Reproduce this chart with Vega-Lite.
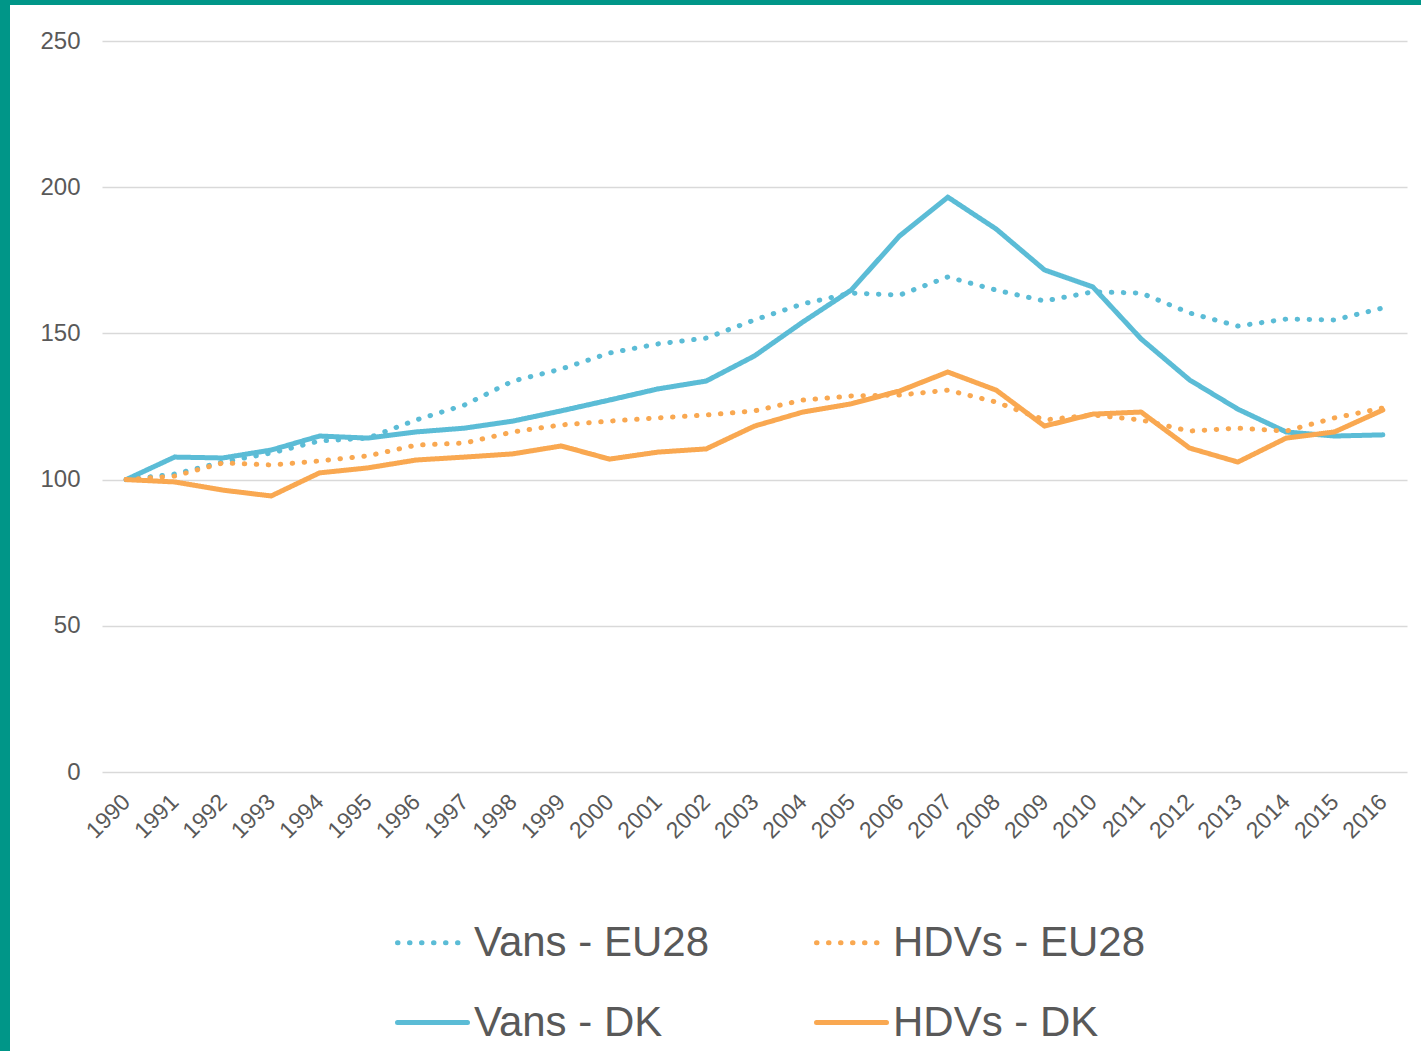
{
  "$schema": "https://vega.github.io/schema/vega-lite/v6.json",
  "padding": 0,
  "background": "white",
  "config": {
    "view": {"stroke": null},
    "font": "Liberation Sans",
    "concat": {"spacing": 0}
  },
  "datasets": {
    "d": [
      {"year": 1990, "series": "Vans - DK", "value": 100},
      {"year": 1991, "series": "Vans - DK", "value": 107.7},
      {"year": 1992, "series": "Vans - DK", "value": 107.4},
      {"year": 1993, "series": "Vans - DK", "value": 110.1},
      {"year": 1994, "series": "Vans - DK", "value": 114.9},
      {"year": 1995, "series": "Vans - DK", "value": 114.2},
      {"year": 1996, "series": "Vans - DK", "value": 116.3},
      {"year": 1997, "series": "Vans - DK", "value": 117.6},
      {"year": 1998, "series": "Vans - DK", "value": 120},
      {"year": 1999, "series": "Vans - DK", "value": 123.5},
      {"year": 2000, "series": "Vans - DK", "value": 127.2},
      {"year": 2001, "series": "Vans - DK", "value": 131},
      {"year": 2002, "series": "Vans - DK", "value": 133.7},
      {"year": 2003, "series": "Vans - DK", "value": 142.3},
      {"year": 2004, "series": "Vans - DK", "value": 153.9},
      {"year": 2005, "series": "Vans - DK", "value": 164.8},
      {"year": 2006, "series": "Vans - DK", "value": 183.3},
      {"year": 2007, "series": "Vans - DK", "value": 196.6},
      {"year": 2008, "series": "Vans - DK", "value": 185.7},
      {"year": 2009, "series": "Vans - DK", "value": 171.7},
      {"year": 2010, "series": "Vans - DK", "value": 165.9},
      {"year": 2011, "series": "Vans - DK", "value": 148.1},
      {"year": 2012, "series": "Vans - DK", "value": 134.1},
      {"year": 2013, "series": "Vans - DK", "value": 124.1},
      {"year": 2014, "series": "Vans - DK", "value": 116.3},
      {"year": 2015, "series": "Vans - DK", "value": 114.9},
      {"year": 2016, "series": "Vans - DK", "value": 115.3},
      {"year": 1990, "series": "Vans - EU28", "value": 100},
      {"year": 1991, "series": "Vans - EU28", "value": 101.9},
      {"year": 1992, "series": "Vans - EU28", "value": 106},
      {"year": 1993, "series": "Vans - EU28", "value": 109.1},
      {"year": 1994, "series": "Vans - EU28", "value": 113.2},
      {"year": 1995, "series": "Vans - EU28", "value": 114.2},
      {"year": 1996, "series": "Vans - EU28", "value": 120.4},
      {"year": 1997, "series": "Vans - EU28", "value": 125.5},
      {"year": 1998, "series": "Vans - EU28", "value": 133.7},
      {"year": 1999, "series": "Vans - EU28", "value": 137.8},
      {"year": 2000, "series": "Vans - EU28", "value": 143.3},
      {"year": 2001, "series": "Vans - EU28", "value": 146.4},
      {"year": 2002, "series": "Vans - EU28", "value": 148.4},
      {"year": 2003, "series": "Vans - EU28", "value": 154.6},
      {"year": 2004, "series": "Vans - EU28", "value": 160.1},
      {"year": 2005, "series": "Vans - EU28", "value": 163.8},
      {"year": 2006, "series": "Vans - EU28", "value": 163.1},
      {"year": 2007, "series": "Vans - EU28", "value": 169.3},
      {"year": 2008, "series": "Vans - EU28", "value": 164.8},
      {"year": 2009, "series": "Vans - EU28", "value": 161.1},
      {"year": 2010, "series": "Vans - EU28", "value": 164.2},
      {"year": 2011, "series": "Vans - EU28", "value": 163.8},
      {"year": 2012, "series": "Vans - EU28", "value": 157},
      {"year": 2013, "series": "Vans - EU28", "value": 152.5},
      {"year": 2014, "series": "Vans - EU28", "value": 154.9},
      {"year": 2015, "series": "Vans - EU28", "value": 154.6},
      {"year": 2016, "series": "Vans - EU28", "value": 158.7},
      {"year": 1990, "series": "HDVs - DK", "value": 100},
      {"year": 1991, "series": "HDVs - DK", "value": 99.2},
      {"year": 1992, "series": "HDVs - DK", "value": 96.4},
      {"year": 1993, "series": "HDVs - DK", "value": 94.4},
      {"year": 1994, "series": "HDVs - DK", "value": 102.3},
      {"year": 1995, "series": "HDVs - DK", "value": 104},
      {"year": 1996, "series": "HDVs - DK", "value": 106.7},
      {"year": 1997, "series": "HDVs - DK", "value": 107.7},
      {"year": 1998, "series": "HDVs - DK", "value": 108.8},
      {"year": 1999, "series": "HDVs - DK", "value": 111.5},
      {"year": 2000, "series": "HDVs - DK", "value": 107},
      {"year": 2001, "series": "HDVs - DK", "value": 109.4},
      {"year": 2002, "series": "HDVs - DK", "value": 110.5},
      {"year": 2003, "series": "HDVs - DK", "value": 118.3},
      {"year": 2004, "series": "HDVs - DK", "value": 123.1},
      {"year": 2005, "series": "HDVs - DK", "value": 125.9},
      {"year": 2006, "series": "HDVs - DK", "value": 130.3},
      {"year": 2007, "series": "HDVs - DK", "value": 136.8},
      {"year": 2008, "series": "HDVs - DK", "value": 130.6},
      {"year": 2009, "series": "HDVs - DK", "value": 118.3},
      {"year": 2010, "series": "HDVs - DK", "value": 122.4},
      {"year": 2011, "series": "HDVs - DK", "value": 123.1},
      {"year": 2012, "series": "HDVs - DK", "value": 110.8},
      {"year": 2013, "series": "HDVs - DK", "value": 106},
      {"year": 2014, "series": "HDVs - DK", "value": 114.2},
      {"year": 2015, "series": "HDVs - DK", "value": 116.3},
      {"year": 2016, "series": "HDVs - DK", "value": 123.8},
      {"year": 1990, "series": "HDVs - EU28", "value": 100},
      {"year": 1991, "series": "HDVs - EU28", "value": 101.2},
      {"year": 1992, "series": "HDVs - EU28", "value": 105.7},
      {"year": 1993, "series": "HDVs - EU28", "value": 105},
      {"year": 1994, "series": "HDVs - EU28", "value": 106.4},
      {"year": 1995, "series": "HDVs - EU28", "value": 108.1},
      {"year": 1996, "series": "HDVs - EU28", "value": 111.8},
      {"year": 1997, "series": "HDVs - EU28", "value": 112.5},
      {"year": 1998, "series": "HDVs - EU28", "value": 116.3},
      {"year": 1999, "series": "HDVs - EU28", "value": 118.7},
      {"year": 2000, "series": "HDVs - EU28", "value": 120},
      {"year": 2001, "series": "HDVs - EU28", "value": 121.1},
      {"year": 2002, "series": "HDVs - EU28", "value": 122.1},
      {"year": 2003, "series": "HDVs - EU28", "value": 123.5},
      {"year": 2004, "series": "HDVs - EU28", "value": 127.2},
      {"year": 2005, "series": "HDVs - EU28", "value": 128.6},
      {"year": 2006, "series": "HDVs - EU28", "value": 128.9},
      {"year": 2007, "series": "HDVs - EU28", "value": 130.6},
      {"year": 2008, "series": "HDVs - EU28", "value": 126.5},
      {"year": 2009, "series": "HDVs - EU28", "value": 120.4},
      {"year": 2010, "series": "HDVs - EU28", "value": 122.1},
      {"year": 2011, "series": "HDVs - EU28", "value": 120.4},
      {"year": 2012, "series": "HDVs - EU28", "value": 116.6},
      {"year": 2013, "series": "HDVs - EU28", "value": 117.6},
      {"year": 2014, "series": "HDVs - EU28", "value": 116.6},
      {"year": 2015, "series": "HDVs - EU28", "value": 121.1},
      {"year": 2016, "series": "HDVs - EU28", "value": 124.5}
    ],
    "blank": [{}]
  },
  "spacing": 0,
  "hconcat": [
    {
      "width": 10,
      "height": 1051,
      "data": {"name": "blank"},
      "view": {"fill": "#009688", "stroke": null},
      "mark": {"type": "rect", "color": "#009688"},
      "encoding": {}
    },
    {
      "spacing": 24,
      "vconcat": [
        {
          "width": 1411,
          "height": 5,
          "data": {"name": "blank"},
          "view": {"fill": "#009688", "stroke": null},
          "mark": {"type": "rect", "color": "#009688"},
          "encoding": {}
        },
        {
          "spacing": 0,
          "hconcat": [
            {
              "width": 1,
              "height": 731,
              "data": {"name": "blank"},
              "mark": {"type": "rect", "opacity": 0},
              "encoding": {}
            },
            {
              "width": 1305,
              "height": 731,
              "data": {"name": "d"},
              "mark": {"type": "line", "strokeWidth": 5, "strokeCap": "round", "strokeJoin": "round"},
              "encoding": {
                "x": {
                  "field": "year",
                  "type": "ordinal",
                  "scale": {"type": "point", "padding": 0.5},
                  "axis": {
                    "title": null,
                    "labelAngle": -45,
                    "labelAlign": "right",
                    "labelBaseline": "middle",
                    "labelFontSize": 23,
                    "labelColor": "#595959",
                    "labelPadding": 26,
                    "ticks": false,
                    "domain": false,
                    "grid": false
                  }
                },
                "y": {
                  "field": "value",
                  "type": "quantitative",
                  "scale": {"domain": [0, 250], "nice": false, "zero": true},
                  "axis": {
                    "title": null,
                    "values": [0, 50, 100, 150, 200, 250],
                    "labelFontSize": 24,
                    "labelColor": "#595959",
                    "labelPadding": 22,
                    "ticks": false,
                    "domain": false,
                    "grid": true,
                    "gridColor": "#D9D9D9",
                    "gridWidth": 1.5,
                    "minExtent": 91,
                    "maxExtent": 91
                  }
                },
                "color": {
                  "field": "series",
                  "type": "nominal",
                  "scale": {
                    "domain": ["Vans - EU28", "Vans - DK", "HDVs - EU28", "HDVs - DK"],
                    "range": ["#5BBCD6", "#5BBCD6", "#F9A851", "#F9A851"]
                  },
                  "legend": {
                    "title": null,
                    "orient": "none",
                    "legendX": 395,
                    "legendY": 905,
                    "columns": 2,
                    "columnPadding": 97,
                    "rowPadding": 21,
                    "symbolType": "stroke",
                    "symbolSize": 4900,
                    "symbolStrokeWidth": 5,
                    "labelFontSize": 42,
                    "labelColor": "#595959",
                    "labelOffset": 4,
                    "labelLimit": 0,
                    "encode": {"symbols": {"update": {"strokeCap": {"value": "round"}}}}
                  }
                },
                "strokeDash": {
                  "field": "series",
                  "type": "nominal",
                  "scale": {
                    "domain": ["Vans - EU28", "Vans - DK", "HDVs - EU28", "HDVs - DK"],
                    "range": [[0.5, 11.5], [1, 0], [0.5, 11.5], [1, 0]]
                  }
                }
              }
            }
          ]
        }
      ]
    }
  ]
}
